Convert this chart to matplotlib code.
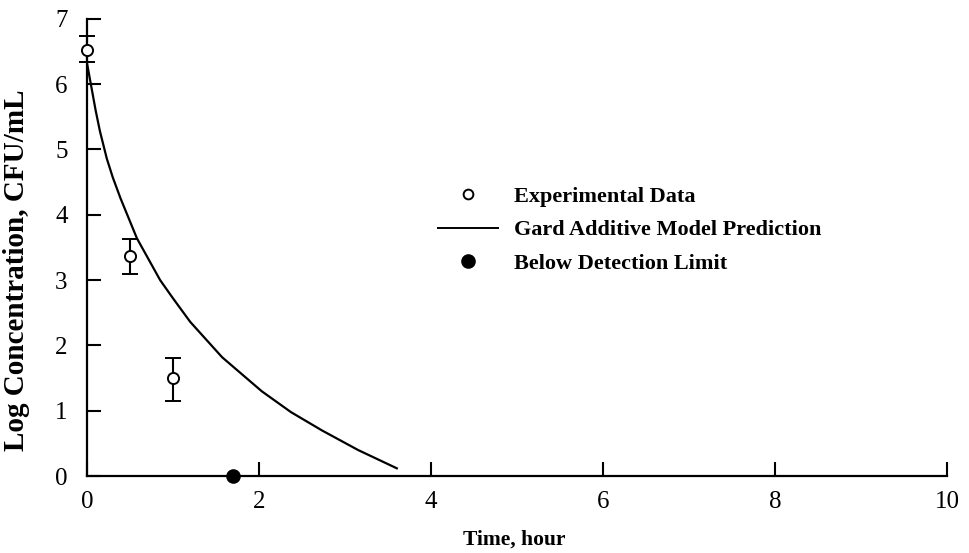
import matplotlib
matplotlib.use("Agg")
import matplotlib.pyplot as plt
from matplotlib.lines import Line2D

# experimental survival data (log CFU/mL) with error bars
t_exp = [0.0, 0.5, 1.0]
logc_exp = [6.53, 3.37, 1.50]
err_lo = [0.19, 0.27, 0.35]
err_hi = [0.20, 0.26, 0.31]

# sample below detection limit
t_bdl = [1.70]
logc_bdl = [0.0]

# Gard additive model prediction
t_model = [0.0, 0.1, 0.15, 0.23, 0.3, 0.39, 0.58, 0.85, 1.0, 1.2, 1.57, 2.03, 2.37, 2.73, 3.15, 3.6]
logc_model = [6.32, 5.6, 5.28, 4.86, 4.57, 4.25, 3.64, 3.0, 2.72, 2.36, 1.82, 1.30, 0.98, 0.70, 0.40, 0.12]

x_ticks = [0, 2, 4, 6, 8, 10]
y_ticks = [0, 1, 2, 3, 4, 5, 6, 7]

plt.rcParams["font.family"] = ["Liberation Serif", "DejaVu Serif"]

fig = plt.figure(figsize=(9.69, 5.53), dpi=100)
ax = fig.add_axes([0.0898, 0.139, 0.888, 0.827])

ax.plot(t_model, logc_model, color="black", lw=1.6)
eb = ax.errorbar(t_exp, logc_exp, yerr=[err_lo, err_hi], fmt="o", mfc="white",
                 mec="black", mew=1.4, ms=8, ecolor="black", elinewidth=1.5,
                 capsize=5.5, capthick=1.5, zorder=3)
for artist in eb.lines[0:1] + eb.lines[1] + eb.lines[2]:
    artist.set_clip_on(False)
ax.plot(t_bdl, logc_bdl, "o", color="black", ms=9.5, clip_on=False, zorder=4)

ax.set_xlim(0, 10)
ax.set_ylim(0, 7)
ax.set_xticks(x_ticks)
ax.set_yticks(y_ticks)
for s in ["top", "right"]:
    ax.spines[s].set_visible(False)
for s in ["left", "bottom"]:
    ax.spines[s].set_linewidth(1.6)
ax.tick_params(direction="in", length=10, width=1.5, labelsize=18)
ax.tick_params(axis="y", pad=14)
ax.tick_params(axis="x", pad=11)

ax.set_xlabel("Time, hour", fontsize=15.5, fontweight="bold")
ax.xaxis.set_label_coords(0.497, -0.116)
ax.set_ylabel("Log Concentration, CFU/mL", fontsize=21, fontweight="bold")
ax.yaxis.set_label_coords(-0.066, 0.45)

handles = [
    Line2D([], [], ls="none", marker="o", mfc="white", mec="black", mew=1.4, ms=7),
    Line2D([], [], color="black", lw=1.4),
    Line2D([], [], ls="none", marker="o", color="black", ms=9.5),
]
labels = ["Experimental Data", "Gard Additive Model Prediction", "Below Detection Limit"]
ax.legend(handles, labels, loc="upper left", bbox_to_anchor=(0.408, 0.633),
          frameon=False, borderpad=0, borderaxespad=0, handlelength=2.7,
          handletextpad=0.7, labelspacing=0.57,
          prop={"family": "Liberation Serif", "size": 16, "weight": "bold"})

fig.savefig("out.png", dpi=100)
